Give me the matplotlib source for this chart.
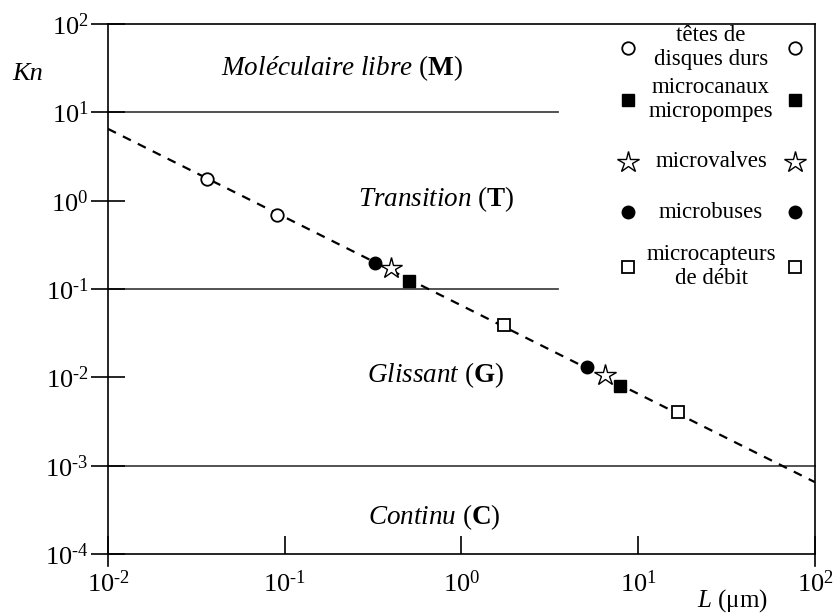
import numpy as np
import matplotlib
matplotlib.use("Agg")
import matplotlib.pyplot as plt
from matplotlib.ticker import FixedLocator, NullLocator, FuncFormatter

plt.rcParams["font.family"] = ["Liberation Serif", "DejaVu Serif"]
plt.rcParams["mathtext.fontset"] = "custom"
plt.rcParams["mathtext.rm"] = "Liberation Serif"
plt.rcParams["mathtext.it"] = "Liberation Serif:italic"
plt.rcParams["mathtext.bf"] = "Liberation Serif:bold"

# Knudsen number Kn = lambda / L for air, lambda ~ 0.065 um
mean_free_path = 0.065
line_L = [1e-2, 1e2]

# Decade ticks on both axes
x_ticks = [1e-2, 1e-1, 1e0, 1e1, 1e2]
y_ticks = [1e-4, 1e-3, 1e-2, 1e-1, 1e0, 1e1, 1e2]

# Regime boundaries (Kn) and where their lines stop along L
boundaries = [10.0, 0.1, 1e-3]
boundary_ends = [3.5, 3.5, 1e2]

# Device examples: (L in um, Kn)
disk_heads_L = [0.0364, 0.0907]
disk_heads_Kn = [1.77, 0.69]
channels_L = [0.507, 7.85]
channels_Kn = [0.124, 0.0080]
valves_L = [0.40, 6.46]
valves_Kn = [0.174, 0.0107]
nozzles_L = [0.326, 5.1]
nozzles_Kn = [0.198, 0.0132]
flow_sensors_L = [1.75, 16.7]
flow_sensors_Kn = [0.039, 0.0040]

legend_labels = ["têtes de\ndisques durs", "microcanaux\nmicropompes",
                 "microvalves", "microbuses", "microcapteurs\nde débit"]

fig = plt.figure(figsize=(8.39, 6.14), dpi=100)
ax = fig.add_axes([0.1287, 0.0977, 0.9714 - 0.1287, 0.9609 - 0.0977])
ax.set_xscale("log")
ax.set_yscale("log")
ax.set_xlim(1e-2, 1e2)
ax.set_ylim(1e-4, 1e2)

# Regime boundaries
for kn, xend in zip(boundaries, boundary_ends):
    ax.plot([1e-2, xend], [kn, kn], color="#444444", lw=1.3, zorder=1,
            clip_on=False)

# Kn = lambda / L
Ls = np.array(line_L)
ax.plot(Ls, mean_free_path / Ls, color="black", lw=1.6, ls=(0, (4, 3.5)), zorder=2)

styles = [
    dict(marker="o", mfc="white", mec="black", ms=9, mew=1.3),
    dict(marker="s", mfc="black", mec="black", ms=8.5, mew=1.0),
    dict(marker="*", mfc="white", mec="black", ms=16, mew=1.0),
    dict(marker="o", mfc="black", mec="black", ms=9, mew=1.0),
    dict(marker="s", mfc="white", mec="black", ms=8.5, mew=1.3),
]
series = [(disk_heads_L, disk_heads_Kn), (channels_L, channels_Kn),
          (valves_L, valves_Kn), (nozzles_L, nozzles_Kn),
          (flow_sensors_L, flow_sensors_Kn)]
for (xs, ys), st in zip(series, styles):
    ax.plot(xs, ys, ls="none", zorder=3, **st)

# Legend: marker on both sides of the centered label
legend_rows = [0.955, 0.857, 0.740, 0.645, 0.542]
for lab, st, yy in zip(legend_labels, styles, legend_rows):
    for xx in (0.7355, 0.972):
        ax.plot([xx], [yy], transform=ax.transAxes, ls="none", clip_on=False,
                zorder=4, **st)
    ax.text(0.853, yy, lab, transform=ax.transAxes, ha="center", va="center",
            fontsize=16.5, linespacing=1.2)

# Regime names
regimes = [
    (r"$\mathit{Moléculaire\ libre}$ ($\mathbf{M}$)", 0.21, 10**1.5),
    (r"$\mathit{Transition}$ ($\mathbf{T}$)", 0.72, 10**0.02),
    (r"$\mathit{Glissant}$ ($\mathbf{G}$)", 0.71, 10**-1.98),
    (r"$\mathit{Continu}$ ($\mathbf{C}$)", 0.70, 10**-3.58),
]
for txt, x, y in regimes:
    ax.text(x, y, txt, ha="center", va="center", fontsize=19.5)


def decade_label(v, pos):
    e = int(round(np.log10(v)))
    s = str(e).replace("-", r"\text{-}")
    return r"$\mathregular{10^{%s}}$" % s


# Axes styling
ax.xaxis.set_major_locator(FixedLocator(x_ticks))
ax.yaxis.set_major_locator(FixedLocator(y_ticks))
ax.xaxis.set_minor_locator(NullLocator())
ax.yaxis.set_minor_locator(NullLocator())
ax.xaxis.set_major_formatter(FuncFormatter(decade_label))
ax.yaxis.set_major_formatter(FuncFormatter(decade_label))
ax.tick_params(axis="y", direction="inout", length=24, width=1.2, labelsize=19, pad=2)
ax.tick_params(axis="x", direction="in", length=13, width=1.2, labelsize=19, pad=12)
for sp in ax.spines.values():
    sp.set_linewidth(1.2)

# Short outward stubs at both ends of the bottom axis
for xf in (0.0, 1.0):
    ax.plot([xf, xf], [0, -0.022], transform=ax.transAxes, color="black",
            lw=1.2, clip_on=False)

ax.text(-0.135, 0.905, "Kn", transform=ax.transAxes, fontsize=19,
        style="italic", ha="left", va="center")
ax.text(0.883, -0.088, r"$\mathit{L}$ (μm)", transform=ax.transAxes, fontsize=18,
        ha="center", va="center")

fig.savefig("out.png", dpi=100)
